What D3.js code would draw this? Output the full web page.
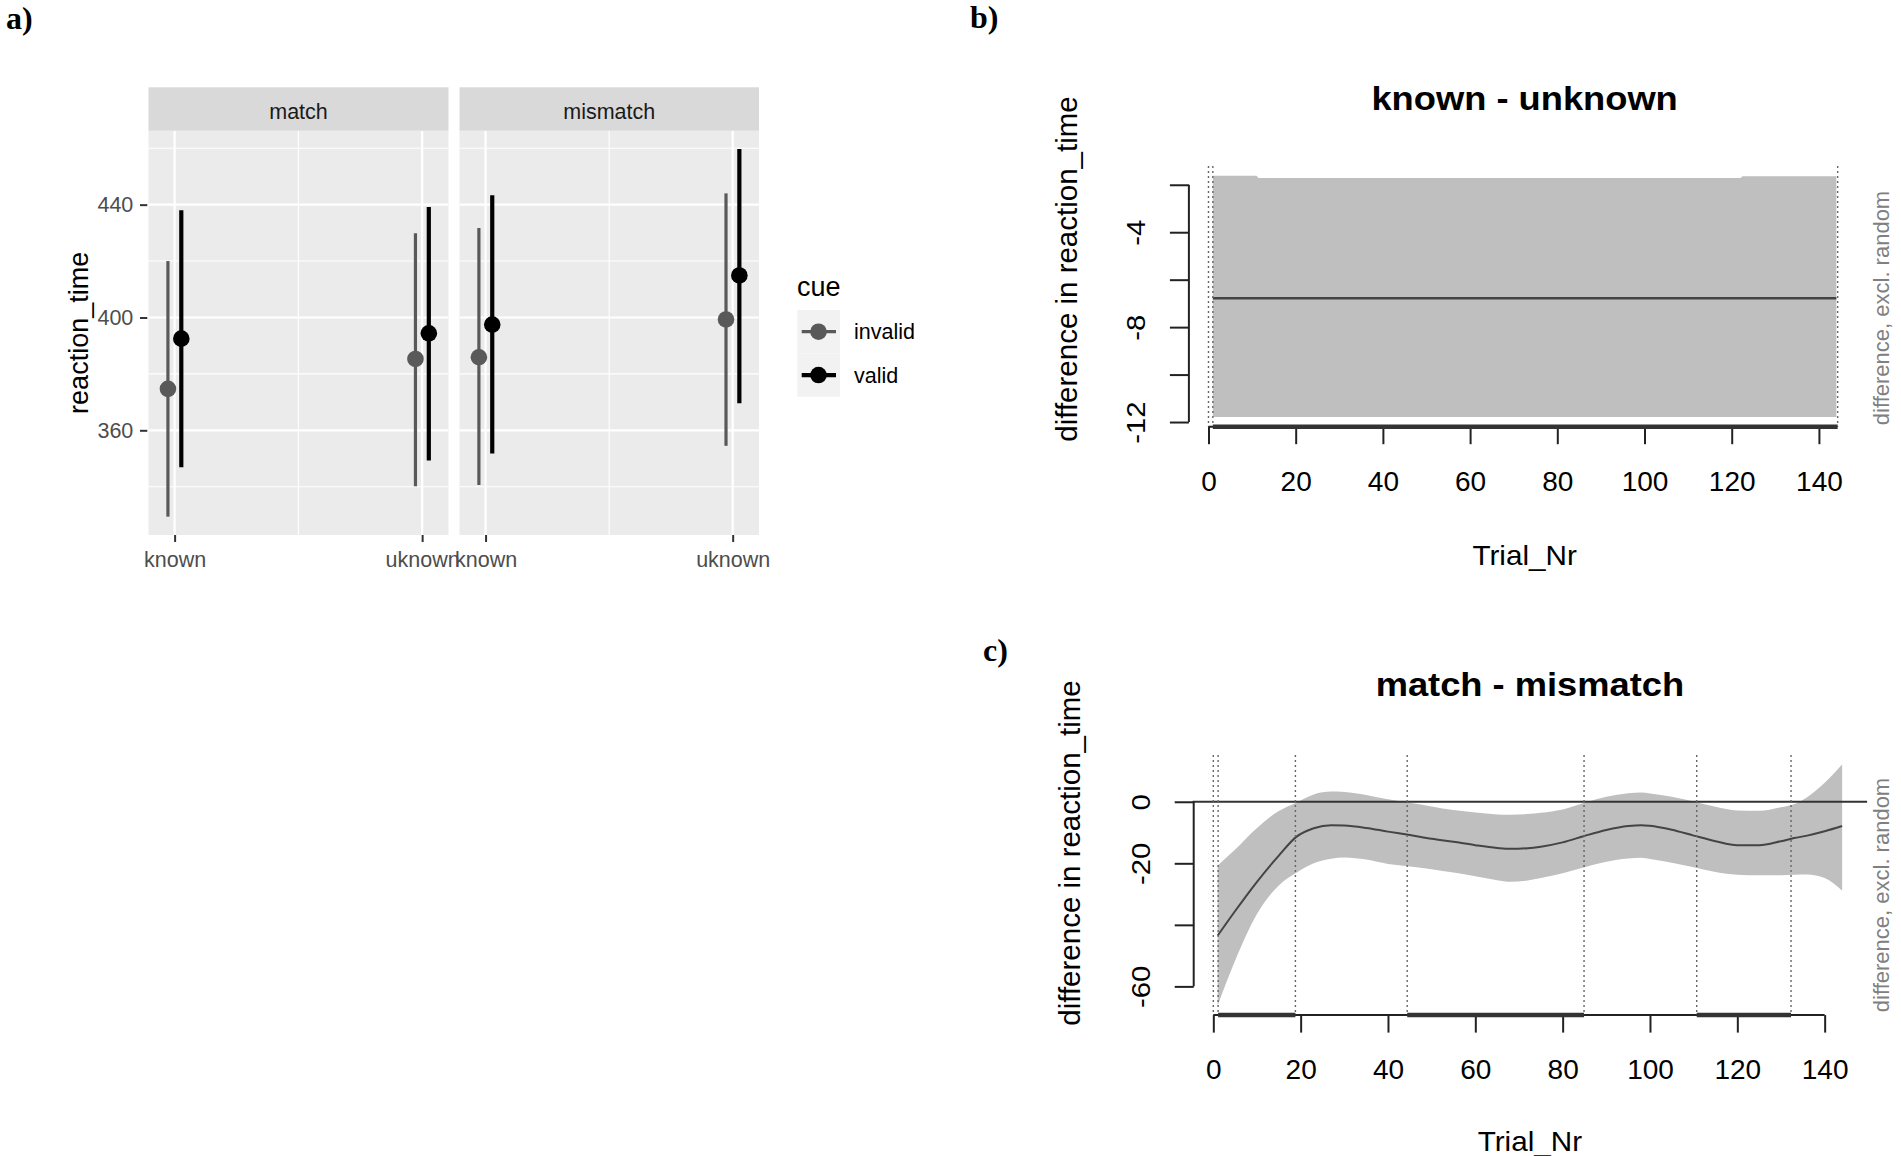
<!DOCTYPE html>
<html><head><meta charset="utf-8">
<script src="https://cdn.jsdelivr.net/npm/d3@7"></script>
<style>body{margin:0;background:#fff}svg{display:block}</style>
</head><body>
<svg id="c" width="1901" height="1156"></svg>
<script>
// ---------------- DATA ----------------
// panel a (ggplot pointrange): order = match-known, match-uknown, mismatch-known, mismatch-uknown
const facets = ["match", "mismatch"];
const categories = ["known", "uknown"];
const cues = ["invalid", "valid"];
const invalidMean = [374.7, 385.3, 385.9, 399.3];
const invalidLow  = [329.4, 340.2, 340.6, 354.5];
const invalidHigh = [420.0, 429.9, 431.7, 444.0];
const validMean   = [392.5, 394.4, 397.5, 414.9];
const validLow    = [346.9, 349.3, 351.8, 369.6];
const validHigh   = [438.0, 439.2, 443.3, 459.7];
const rtMajorTicks = [360, 400, 440];
const rtMinorTicks = [340, 380, 420, 460];

// panel b: known - unknown
const kuTrial = [1, 11, 11.5, 122, 122.5, 144];
const kuUpper = [-1.62, -1.62, -1.72, -1.72, -1.64, -1.64];
const kuMean  = [-6.78, -6.78, -6.78, -6.78, -6.78, -6.78];
const kuLower = [-11.79, -11.79, -11.79, -11.79, -11.79, -11.79];
const kuYTicks = [-2, -4, -6, -8, -10, -12];
const kuYLabels = [-4, -8, -12];
const kuSigStart = [1];
const kuSigEnd = [144.3];
const kuVLines = [0, 1, 144.3];

// panel c: match - mismatch
const mmTrial = [1, 5, 10, 15, 19, 23, 27, 30, 35, 40, 45, 50, 55, 60, 65, 68, 72, 75, 80, 85, 90, 95, 98, 100, 105, 110, 115, 120, 125, 130, 133, 136, 140, 144];
const mmMean  = [-43.5, -35.5, -26, -17.5, -11.4, -8.6, -7.6, -7.7, -8.5, -9.7, -10.8, -12, -13, -14.1, -15, -15.3, -15.1, -14.6, -13.2, -11.1, -9.2, -7.9, -7.6, -7.8, -9.1, -11, -12.8, -14.1, -14.1, -12.8, -11.8, -11, -9.6, -7.9];
const mmUpper = [-20.7, -15.5, -8.5, -3, -0.3, 2.4, 3.3, 3.2, 2.2, 0.8, -0.3, -1.5, -2.7, -3.5, -4.1, -4.2, -4, -3.6, -2.5, -0.3, 1.6, 2.8, 3, 2.7, 1.6, 0.1, -1.6, -2.8, -2.9, -1.8, -0.8, 1.5, 6.2, 12.1];
const mmLower = [-66.2, -51.6, -36.5, -27.2, -23.1, -20, -18.5, -18.1, -18.8, -20.2, -21, -21.9, -23, -24.2, -25.5, -26, -25.6, -24.8, -23.2, -21.3, -19.5, -18.4, -18.2, -18.6, -19.8, -21.3, -22.8, -23.7, -23.9, -23.9, -23.7, -23.6, -24.8, -28.9];
const mmYTicks = [0, -20, -40, -60];
const mmYLabels = [0, -20, -60];
const mmSigStart = [1.1, 44.4, 110.7];
const mmSigEnd = [18.8, 84.9, 132.3];
const mmVLines = [0, 1.1, 18.8, 44.4, 84.9, 110.7, 132.3];

const trialTicks = [0, 20, 40, 60, 80, 100, 120, 140];

// ---------------- DRAW ----------------
const SANS = "'Liberation Sans', Arial, Helvetica, sans-serif";
const SERIF = "'Liberation Serif', 'Times New Roman', serif";
const svg = d3.select("#c");
svg.append("rect").attr("width", 1901).attr("height", 1156).attr("fill", "#fff");

function panelLabel(t, x, y) {
  svg.append("text").attr("x", x).attr("y", y).text(t)
    .attr("font-family", SERIF).attr("font-weight", "bold").attr("font-size", 32).attr("fill", "#000");
}
panelLabel("a)", 6, 29);
panelLabel("b)", 970, 28);
panelLabel("c)", 983, 661);

// ===== Panel a =====
(function () {
  const panelX = [[148.5, 448.5], [459.5, 759]];
  const top = 130.7, bot = 535, stripTop = 87.3;
  const lo = d3.min([...invalidLow, ...validLow]);
  const hi = d3.max([...invalidHigh, ...validHigh]);
  const pad = (hi - lo) * 0.05;
  const y = d3.scaleLinear().domain([lo - pad, hi + pad]).range([bot, top]);
  const cueColor = d3.scaleOrdinal().domain(cues).range(["#595959", "#000000"]);
  const cueWidth = d3.scaleOrdinal().domain(cues).range([3.2, 4.2]);
  const dodge = d3.scaleOrdinal().domain(cues).range([-0.027, 0.027]);
  const means = [invalidMean, validMean], lows = [invalidLow, validLow], highs = [invalidHigh, validHigh];

  facets.forEach((f, fi) => {
    const x = d3.scaleLinear().domain([0.8945, 2.1065]).range(panelX[fi]);
    const g = svg.append("g");
    g.append("rect").attr("x", panelX[fi][0]).attr("y", top)
      .attr("width", panelX[fi][1] - panelX[fi][0]).attr("height", bot - top).attr("fill", "#ebebeb");
    g.selectAll(".ymin").data(rtMinorTicks).join("line")
      .attr("x1", panelX[fi][0]).attr("x2", panelX[fi][1])
      .attr("y1", d => y(d)).attr("y2", d => y(d)).attr("stroke", "#fff").attr("stroke-width", 1.1);
    g.selectAll(".xmin").data([1.5]).join("line")
      .attr("x1", d => x(d)).attr("x2", d => x(d)).attr("y1", top).attr("y2", bot)
      .attr("stroke", "#fff").attr("stroke-width", 1.1);
    g.selectAll(".ymaj").data(rtMajorTicks).join("line")
      .attr("x1", panelX[fi][0]).attr("x2", panelX[fi][1])
      .attr("y1", d => y(d)).attr("y2", d => y(d)).attr("stroke", "#fff").attr("stroke-width", 2.2);
    g.selectAll(".xmaj").data([1, 2]).join("line")
      .attr("x1", d => x(d)).attr("x2", d => x(d)).attr("y1", top).attr("y2", bot)
      .attr("stroke", "#fff").attr("stroke-width", 2.2);
    g.append("rect").attr("x", panelX[fi][0]).attr("y", stripTop)
      .attr("width", panelX[fi][1] - panelX[fi][0]).attr("height", top - stripTop).attr("fill", "#d9d9d9");
    g.append("text").attr("x", (panelX[fi][0] + panelX[fi][1]) / 2).attr("y", (stripTop + top) / 2 + 2)
      .attr("dy", "0.36em").attr("text-anchor", "middle").attr("font-family", SANS)
      .attr("font-size", 21.5).attr("fill", "#1a1a1a").text(f);
    cues.forEach((cue, ci) => {
      categories.forEach((cat, k) => {
        const idx = fi * 2 + k;
        const cx = x(k + 1 + dodge(cue));
        g.append("line").attr("x1", cx).attr("x2", cx)
          .attr("y1", y(lows[ci][idx])).attr("y2", y(highs[ci][idx]))
          .attr("stroke", cueColor(cue)).attr("stroke-width", cueWidth(cue));
        g.append("circle").attr("cx", cx).attr("cy", y(means[ci][idx])).attr("r", 8.3)
          .attr("fill", cueColor(cue));
      });
    });
    const ax = g.append("g").attr("transform", `translate(0,${bot})`)
      .call(d3.axisBottom(x).tickValues([1, 2]).tickFormat(d => categories[d - 1]).tickSize(7).tickPadding(10));
    ax.select(".domain").remove();
    ax.selectAll("line").attr("stroke", "#333").attr("stroke-width", 2);
    ax.selectAll("text").attr("font-family", SANS).attr("font-size", 21.5).attr("fill", "#4d4d4d");
  });

  const ay = svg.append("g").attr("transform", "translate(147.3,0)")
    .call(d3.axisLeft(y).tickValues(rtMajorTicks).tickSize(7.3).tickPadding(6.7));
  ay.select(".domain").remove();
  ay.selectAll("line").attr("stroke", "#333").attr("stroke-width", 2);
  ay.selectAll("text").attr("font-family", SANS).attr("font-size", 21.5).attr("fill", "#4d4d4d");

  svg.append("text").attr("transform", `translate(88.3,${(top + bot) / 2}) rotate(-90)`)
    .attr("text-anchor", "middle").attr("font-family", SANS).attr("font-size", 27).attr("fill", "#000")
    .text("reaction_time");

  const lg = svg.append("g");
  lg.append("text").attr("x", 797).attr("y", 296).attr("font-family", SANS).attr("font-size", 27)
    .attr("fill", "#000").text("cue");
  const keyY = d3.scaleBand().domain(cues).range([310, 396.7]);
  cues.forEach(cue => {
    const yy = keyY(cue), cy = yy + keyY.bandwidth() / 2;
    lg.append("rect").attr("x", 797.3).attr("y", yy).attr("width", 42.7).attr("height", keyY.bandwidth())
      .attr("fill", "#f2f2f2");
    lg.append("line").attr("x1", 801.7).attr("x2", 836).attr("y1", cy).attr("y2", cy)
      .attr("stroke", cueColor(cue)).attr("stroke-width", cueWidth(cue));
    lg.append("circle").attr("cx", 818.5).attr("cy", cy).attr("r", 8.3).attr("fill", cueColor(cue));
    lg.append("text").attr("x", 854).attr("y", cy).attr("dy", "0.36em").attr("font-family", SANS)
      .attr("font-size", 21.5).attr("fill", "#000").text(cue);
  });
})();

// ===== R difference panels =====
function diffPanel(o) {
  const ext = (a, b, f) => [a - (b - a) * f, b + (b - a) * f];
  const xDom = ext(d3.min(o.trial), d3.max(o.trial), 0.04);
  const yDom = ext(d3.min(o.lower), d3.max(o.upper), 0.04);
  const x = d3.scaleLinear().domain(xDom).range(o.xRange);
  const y = d3.scaleLinear().domain(yDom).range(o.yRange);
  const g = svg.append("g");
  const pts = o.trial.map((t, i) => ({ t, m: o.mean[i], u: o.upper[i], l: o.lower[i] }));
  const curve = o.curve || d3.curveLinear;

  g.append("path").datum(pts)
    .attr("d", d3.area().curve(curve).x(d => x(d.t)).y0(d => y(d.l)).y1(d => y(d.u)))
    .attr("fill", "#bfbfbf");
  g.append("path").datum(pts)
    .attr("d", d3.line().curve(curve).x(d => x(d.t)).y(d => y(d.m)))
    .attr("fill", "none").attr("stroke", "#444").attr("stroke-width", o.meanWidth);

  if (o.zeroLine) {
    g.append("line").attr("x1", o.xRange[0]).attr("x2", o.xRange[1]).attr("y1", y(0)).attr("y2", y(0))
      .attr("stroke", "#333").attr("stroke-width", 2);
  }
  g.selectAll(".vl").data(o.vlines).join("line")
    .attr("x1", d => x(d)).attr("x2", d => x(d)).attr("y1", o.yRange[1]).attr("y2", o.yRange[0])
    .attr("stroke", "#666").attr("stroke-width", 1.4).attr("stroke-dasharray", "2,3");

  const ax = g.append("g").attr("transform", `translate(0,${o.yRange[0]})`)
    .call(d3.axisBottom(x).tickValues(trialTicks).tickFormat(d => String(d)).tickSize(17.5).tickPadding(27));
  ax.select(".domain").remove();
  ax.append("line").attr("x1", x(trialTicks[0])).attr("x2", x(trialTicks[trialTicks.length - 1]))
    .attr("stroke", "#222").attr("stroke-width", 2);
  ax.selectAll("line").attr("stroke", "#222").attr("stroke-width", 2);
  ax.selectAll("text").attr("font-family", SANS).attr("font-size", 28).attr("fill", "#000");

  g.selectAll(".sig").data(o.sigStart).join("line")
    .attr("x1", d => x(d)).attr("x2", (d, i) => x(o.sigEnd[i]))
    .attr("y1", o.yRange[0]).attr("y2", o.yRange[0])
    .attr("stroke", "#333").attr("stroke-width", 4.5);

  const yAxisX = o.xRange[0] + 1;
  const ay = g.append("g").attr("transform", `translate(${yAxisX},0)`)
    .call(d3.axisLeft(y).tickValues(o.yTicks)
      .tickFormat(d => o.yLabels.includes(d) ? String(d) : "").tickSize(19));
  ay.select(".domain").remove();
  ay.append("line").attr("y1", y(o.yTicks[0])).attr("y2", y(o.yTicks[o.yTicks.length - 1]))
    .attr("stroke", "#222").attr("stroke-width", 2);
  ay.selectAll("line").attr("stroke", "#222").attr("stroke-width", 2);
  ay.selectAll(".tick text")
    .attr("x", 0).attr("dy", "0.36em").attr("text-anchor", "middle")
    .attr("transform", "translate(-53,0) rotate(-90) scale(1.15,1)")
    .attr("font-family", SANS).attr("font-size", 25.5).attr("fill", "#000");

  const cx = (o.xRange[0] + o.xRange[1]) / 2;
  g.append("text").attr("transform", `translate(${cx},${o.titleY}) scale(1.1,1)`).attr("text-anchor", "middle")
    .attr("font-family", SANS).attr("font-weight", "bold").attr("font-size", 33).attr("fill", "#000")
    .text(o.title);
  g.append("text").attr("transform", `translate(${cx},${o.xlabY}) scale(1.06,1)`).attr("text-anchor", "middle")
    .attr("font-family", SANS).attr("font-size", 28).attr("fill", "#000").text("Trial_Nr");
  g.append("text").attr("transform", `translate(${o.ylabX},${o.ylabY}) rotate(-90)`)
    .attr("text-anchor", "middle").attr("font-family", SANS).attr("font-size", 29.5).attr("fill", "#000")
    .text("difference in reaction_time");
  g.append("text").attr("transform", `translate(1889,${o.sideY}) rotate(-90)`)
    .attr("text-anchor", "middle").attr("font-family", SANS).attr("font-size", 22).attr("fill", "#808080")
    .text("difference, excl. random");
}

diffPanel({
  trial: kuTrial, mean: kuMean, upper: kuUpper, lower: kuLower,
  yTicks: kuYTicks, yLabels: kuYLabels, sigStart: kuSigStart, sigEnd: kuSigEnd, vlines: kuVLines,
  xRange: [1187.9, 1861.3], yRange: [426.7, 166.1], meanWidth: 2.6, zeroLine: false,
  title: "known - unknown", titleY: 109.6, xlabY: 565.4, ylabX: 1077, ylabY: 269, sideY: 308
});
diffPanel({
  trial: mmTrial, mean: mmMean, upper: mmUpper, lower: mmLower,
  yTicks: mmYTicks, yLabels: mmYLabels, sigStart: mmSigStart, sigEnd: mmSigEnd, vlines: mmVLines,
  xRange: [1192.7, 1867.1], yRange: [1015.1, 754.9], meanWidth: 2, zeroLine: true, curve: d3.curveMonotoneX,
  title: "match - mismatch", titleY: 695.5, xlabY: 1150.6, ylabX: 1079.5, ylabY: 853, sideY: 895
});
</script>
</body></html>
